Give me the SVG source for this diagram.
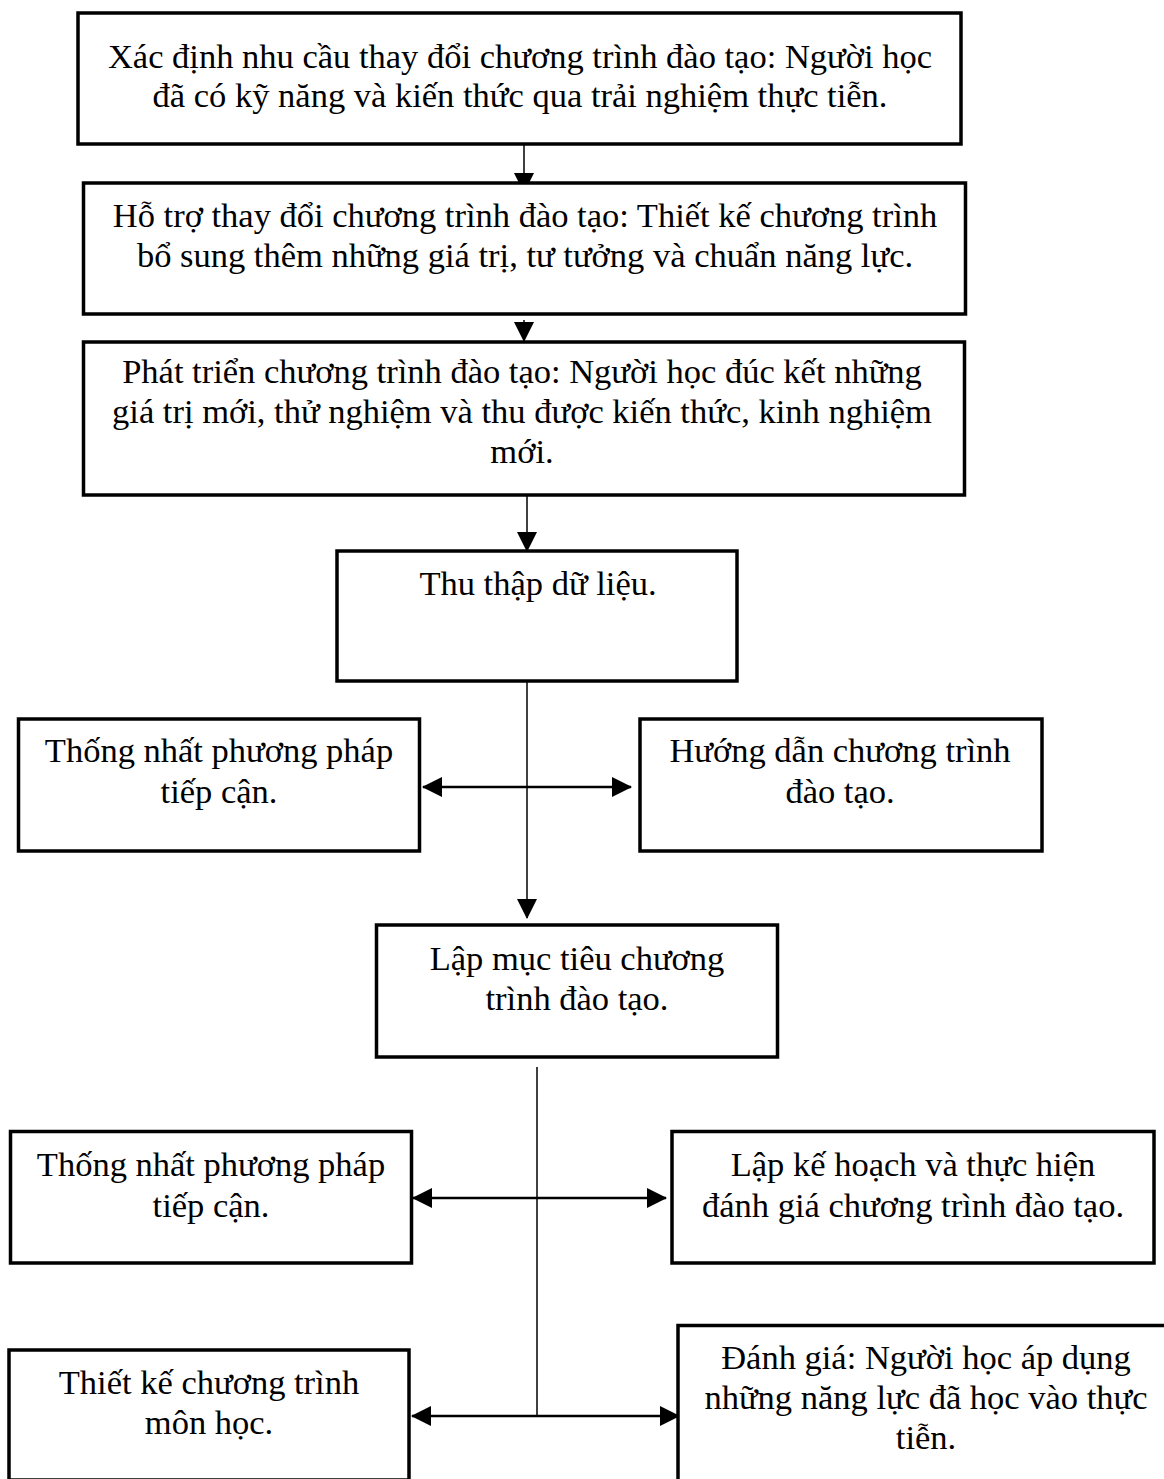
<svg xmlns="http://www.w3.org/2000/svg" width="1164" height="1479" viewBox="0 0 1164 1479">
<defs>
<style>
.box{fill:#fff;stroke:#000;stroke-width:3.5}
.t{font-family:"Liberation Serif","Times New Roman",serif;font-size:34.5px;fill:#000;text-anchor:middle}
.v{stroke:#000;stroke-width:1.5;fill:none}
.h{stroke:#000;stroke-width:2.5;fill:none}
</style>
<marker id="ah" markerUnits="userSpaceOnUse" markerWidth="20" markerHeight="20" refX="19" refY="10" orient="auto-start-reverse">
<path d="M0,0 L20,10 L0,20 Z" fill="#000"/>
</marker>
</defs>
<rect width="1164" height="1479" fill="#fff"/>
<g id="connectors">
<line class="v" x1="524" y1="145" x2="524" y2="192" marker-end="url(#ah)"/>
<line class="v" x1="524" y1="320" x2="524" y2="341" marker-end="url(#ah)"/>
<line class="v" x1="527" y1="495" x2="527" y2="551" marker-end="url(#ah)"/>
<line class="v" x1="527" y1="681" x2="527" y2="918" marker-end="url(#ah)"/>
<line class="h" x1="423" y1="787" x2="631" y2="787" marker-start="url(#ah)" marker-end="url(#ah)"/>
<line class="v" x1="537" y1="1067" x2="537" y2="1416"/>
<line class="h" x1="413" y1="1198" x2="666" y2="1198" marker-start="url(#ah)" marker-end="url(#ah)"/>
<line class="h" x1="412" y1="1416" x2="679" y2="1416" marker-start="url(#ah)" marker-end="url(#ah)"/>
</g>
<g id="n1">
<rect class="box" x="78" y="13" width="883" height="131"/>
<text class="t" x="520" y="68">Xác định nhu cầu thay đổi chương trình đào tạo: Người học</text>
<text class="t" x="520" y="107">đã có kỹ năng và kiến thức qua trải nghiệm thực tiễn.</text>
</g>
<g id="n2">
<rect class="box" x="83.5" y="183" width="882" height="131"/>
<text class="t" x="525" y="227">Hỗ trợ thay đổi chương trình đào tạo: Thiết kế chương trình</text>
<text class="t" x="525" y="267">bổ sung thêm những giá trị, tư tưởng và chuẩn năng lực.</text>
</g>
<g id="n3">
<rect class="box" x="83.5" y="342" width="881" height="153"/>
<text class="t" x="522" y="383">Phát triển chương trình đào tạo: Người học đúc kết những</text>
<text class="t" x="522" y="423">giá trị mới, thử nghiệm và thu được kiến thức, kinh nghiệm</text>
<text class="t" x="522" y="463">mới.</text>
</g>
<g id="n4">
<rect class="box" x="337" y="551" width="400" height="130"/>
<text class="t" x="538" y="595">Thu thập dữ liệu.</text>
</g>
<g id="n5">
<rect class="box" x="18.5" y="719" width="401" height="132"/>
<text class="t" x="219" y="762">Thống nhất phương pháp</text>
<text class="t" x="219" y="803">tiếp cận.</text>
</g>
<g id="n6">
<rect class="box" x="640" y="719" width="402" height="132"/>
<text class="t" x="840" y="762">Hướng dẫn chương trình</text>
<text class="t" x="840" y="803">đào tạo.</text>
</g>
<g id="n7">
<rect class="box" x="376.5" y="925" width="401" height="132"/>
<text class="t" x="577" y="970">Lập mục tiêu chương</text>
<text class="t" x="577" y="1010">trình đào tạo.</text>
</g>
<g id="n8">
<rect class="box" x="10.5" y="1131.5" width="401" height="131.5"/>
<text class="t" x="211" y="1176">Thống nhất phương pháp</text>
<text class="t" x="211" y="1217">tiếp cận.</text>
</g>
<g id="n9">
<rect class="box" x="672" y="1131.5" width="482" height="131.5"/>
<text class="t" x="913" y="1176">Lập kế hoạch và thực hiện</text>
<text class="t" x="913" y="1217">đánh giá chương trình đào tạo.</text>
</g>
<g id="n10">
<rect class="box" x="9" y="1350" width="400" height="130"/>
<text class="t" x="209" y="1394">Thiết kế chương trình</text>
<text class="t" x="209" y="1434">môn học.</text>
</g>
<g id="n11">
<rect class="box" x="678" y="1325.5" width="500" height="170"/>
<text class="t" x="926" y="1369">Đánh giá: Người học áp dụng</text>
<text class="t" x="926" y="1409">những năng lực đã học vào thực</text>
<text class="t" x="926" y="1449">tiễn.</text>
</g>
</svg>
